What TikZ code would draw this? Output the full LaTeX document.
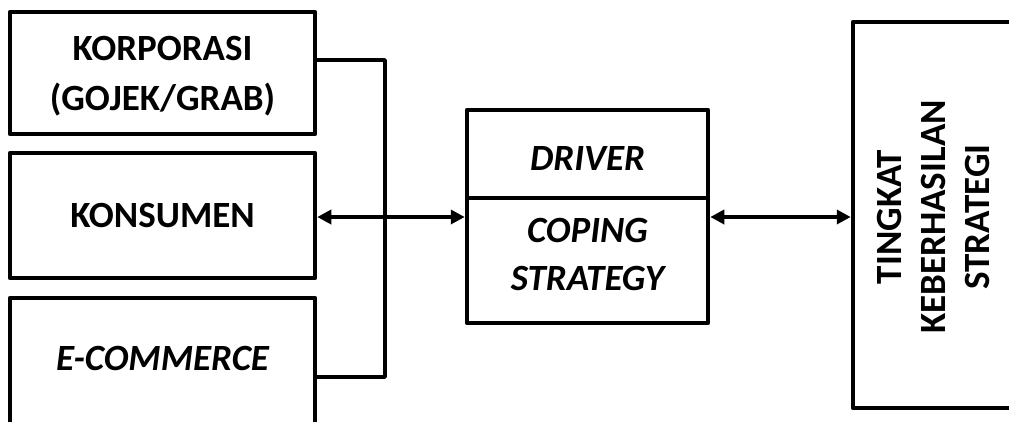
\documentclass[tikz,border=0pt]{standalone}
\usepackage{fontspec}
\setmainfont{Carlito}
\usetikzlibrary{arrows.meta}
\begin{document}
\begin{tikzpicture}[x=1pt,y=-1pt,
  box/.style={draw, line width=4.5pt, line join=round, inner sep=0pt},
  conn/.style={line width=3.5pt, line join=round},
  dbl/.style={conn, {Triangle[length=14pt,width=14pt]}-{Triangle[length=14pt,width=14pt]}},
  txt/.style={font=\bfseries\fontsize{37}{44}\selectfont, inner sep=0pt, anchor=base},
  itxt/.style={txt, font=\bfseries\itshape\fontsize{37}{44}\selectfont}]
\useasboundingbox (0,0) rectangle (1009,421);
\clip (0,0) rectangle (1009,421);
% boxes
\node[box, minimum width=305pt, minimum height=122pt] (korp) at (162.5,73) {};
\node[box, minimum width=305pt, minimum height=125pt] (kons) at (162.5,215.5) {};
\node[box, minimum width=305pt, minimum height=144pt] (ecom) at (162.5,370) {};
\node[box, minimum width=241pt, minimum height=213pt] (mid) at (587.5,216.5) {};
\node[box, minimum width=207pt, minimum height=386pt] (res) at (956.5,215) {};
% divider in middle box
\coordinate (divy) at (0,198);
\draw[line width=4.5pt] (mid.west |- divy) -- (mid.east |- divy);
% texts
\node[txt] (t1) at (162.5,60) {KORPORASI};
\node[txt] (t2) at (162.5,110) {(GOJEK/GRAB)};
\node[txt] (t3) at (162.5,227) {KONSUMEN};
\node[itxt] (t4) at (162.5,370) {E-COMMERCE};
\node[itxt] (t5) at (587.5,170) {DRIVER};
\node[itxt] (t6) at (587.5,242) {COPING};
\node[itxt] (t7) at (587.5,290) {STRATEGY};
\node[txt, rotate=90] (t8) at (901,217) {TINGKAT};
\node[txt, rotate=90] (t9) at (945,217) {KEBERHASILAN};
\node[txt, rotate=90] (t10) at (989,217) {STRATEGI};
% bracket
\coordinate (bt) at (385,60);
\coordinate (bb) at (385,377);
\draw[conn] (korp.east |- bt) -- (bt) -- (bb) -- (ecom.east |- bb);
% arrows
\coordinate (ay) at (0,217);
\draw[dbl] (kons.east |- ay) -- (mid.west |- ay);
\draw[dbl] (mid.east |- ay) -- (res.west |- ay);
\end{tikzpicture}
\end{document}
